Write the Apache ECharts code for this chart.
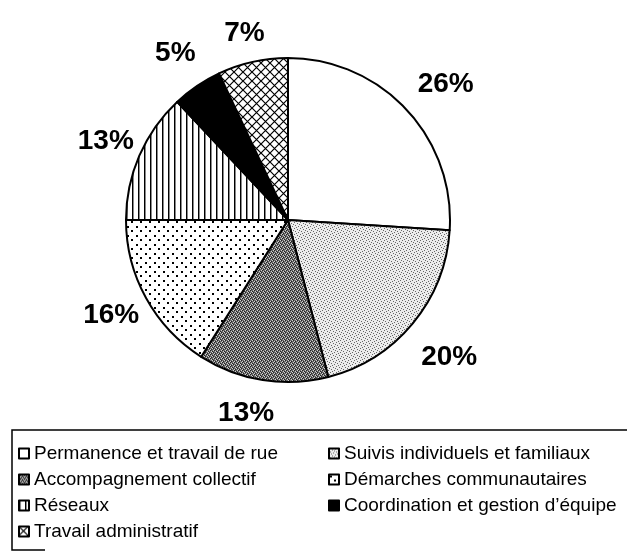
<!DOCTYPE html>
<html>
<head>
<meta charset="utf-8">
<script src="https://cdn.jsdelivr.net/npm/echarts@6/dist/echarts.min.js"></script>
<style>
  html, body { margin: 0; padding: 0; background: #fff; }
  #chart { width: 627px; height: 552px; }
</style>
</head>
<body>
<div id="chart"></div>
<script>
const categories = [
  'Permanence et travail de rue',
  'Suivis individuels et familiaux',
  'Accompagnement collectif',
  'Démarches communautaires',
  'Réseaux',
  'Coordination et gestion d\u2019équipe',
  'Travail administratif'
];
const shares = [26, 20, 13, 16, 13, 5, 7];
const legendLeft = [categories[0], categories[2], categories[4], categories[6]];
const legendRight = [categories[1], categories[3], categories[5]];

// small nudges of the % labels, the scan does not place them exactly radially
const labelNudge = [[9, 4], [4, 7], [-10, -8], [2, -3], [5, 2], [2, 2], [1, 12]];

// little canvases used as fill patterns, the scan is black & white
const makeTile = (w, h, draw) => {
  const c = document.createElement('canvas');
  c.width = w; c.height = h;
  const ctx = c.getContext('2d');
  ctx.fillStyle = '#fff';
  ctx.fillRect(0, 0, w, h);
  draw(ctx);
  return { image: c, repeat: 'repeat' };
};

const fineStipple = makeTile(6, 6, ctx => {
  ctx.fillStyle = '#ececec';
  ctx.fillRect(0, 0, 6, 6);
  ctx.fillStyle = '#666';
  [[0, 0], [3, 1], [1, 3], [4, 4], [5, 2], [2, 5]].forEach(p => ctx.fillRect(p[0], p[1], 1, 1));
});
const darkTexture = makeTile(4, 4, ctx => {
  ctx.fillStyle = '#6a6a6a';
  ctx.fillRect(0, 0, 4, 4);
  ctx.fillStyle = '#d0d0d0';
  [[0, 0], [2, 1], [1, 2], [3, 3]].forEach(p => ctx.fillRect(p[0], p[1], 1, 1));
  ctx.fillStyle = '#222';
  [[1, 0], [3, 1], [0, 3], [2, 2]].forEach(p => ctx.fillRect(p[0], p[1], 1, 1));
});
const dots = makeTile(9, 9, ctx => {
  ctx.fillStyle = '#000';
  ctx.fillRect(1, 1, 2, 2);
  ctx.fillRect(5, 5, 2, 2);
});
const verticalLines = makeTile(6, 4, ctx => {
  ctx.fillStyle = '#000';
  ctx.fillRect(0, 0, 1, 4);
  ctx.fillStyle = '#888';
  ctx.fillRect(1, 0, 1, 4);
});
const crossHatch = makeTile(9, 9, ctx => {
  ctx.strokeStyle = '#000';
  ctx.lineWidth = 1.2;
  ctx.beginPath();
  ctx.moveTo(0, 0); ctx.lineTo(9, 9);
  ctx.moveTo(9, 0); ctx.lineTo(0, 9);
  ctx.stroke();
});

const fills = ['#ffffff', fineStipple, darkTexture, dots, verticalLines, '#000000', crossHatch];

const chart = echarts.init(document.getElementById('chart'));

const legendText = { fontFamily: 'Liberation Sans, Arial, sans-serif', fontSize: 19, color: '#000' };

chart.setOption({
  animation: false,
  backgroundColor: '#fff',
  legend: [
    {
      data: legendLeft, orient: 'vertical', left: 18, top: 444, padding: 0,
      itemWidth: 10, itemHeight: 10, itemGap: 7, icon: 'rect',
      selectedMode: false, textStyle: legendText
    },
    {
      data: legendRight, orient: 'vertical', left: 328, top: 444, padding: 0,
      itemWidth: 10, itemHeight: 10, itemGap: 7, icon: 'rect',
      selectedMode: false, textStyle: legendText
    }
  ],
  graphic: [{
    type: 'polyline',
    shape: { points: [[640, 430], [12, 430], [12, 550], [45, 550]] },
    style: { stroke: '#000', lineWidth: 1.5, fill: null },
    silent: true
  }],
  series: [
    {
      type: 'pie',
      center: [288, 220],
      radius: 162,
      startAngle: 90,
      clockwise: true,
      avoidLabelOverlap: false,
      label: { show: false },
      labelLine: { show: false },
      emphasis: { disabled: true },
      itemStyle: { borderColor: '#000', borderWidth: 2 },
      data: categories.map((name, i) => ({ name, value: shares[i], itemStyle: { color: fills[i] } }))
    },
    {
      // empty ring only used to place the percent labels around the pie
      type: 'pie',
      center: [288, 220],
      radius: [186, 216],
      startAngle: 90,
      clockwise: true,
      silent: true,
      avoidLabelOverlap: false,
      emphasis: { disabled: true },
      itemStyle: { color: 'rgba(0,0,0,0)', borderWidth: 0 },
      label: {
        show: true, position: 'inside', formatter: '{c}%',
        fontFamily: 'Liberation Sans, Arial, sans-serif', fontWeight: 'bold', fontSize: 28, color: '#000'
      },
      labelLine: { show: false },
      data: categories.map((name, i) => ({
        name: 'pct ' + i, value: shares[i], label: { offset: labelNudge[i] }
      }))
    }
  ]
});
</script>
</body>
</html>
